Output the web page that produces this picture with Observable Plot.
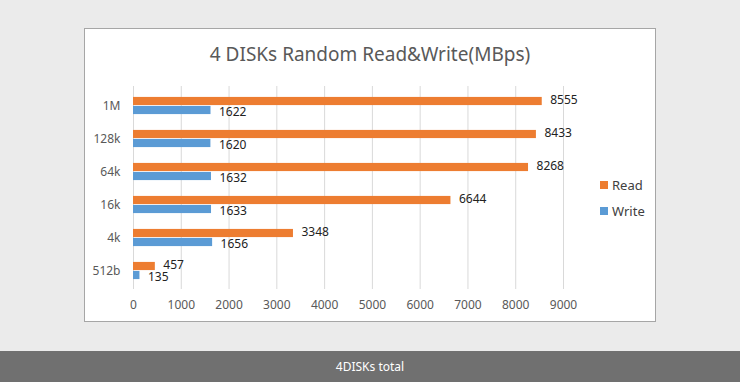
<!DOCTYPE html>
<html>
<head>
<meta charset="utf-8">
<script src="https://cdn.jsdelivr.net/npm/d3@7"></script>
<script src="https://cdn.jsdelivr.net/npm/@observablehq/plot@0.6"></script>
<style>
  html, body { margin: 0; padding: 0; }
  body { width: 740px; height: 382px; background: #ebebeb; position: relative; overflow: hidden; font-family: "Noto Sans", "Open Sans", sans-serif; }
  #box { position: absolute; left: 84px; top: 28px; width: 570px; height: 292px; background: #fff; border: 1px solid #a6a6a6; }
  #title { position: absolute; left: 0; width: 100%; top: 12px; text-align: center; font-size: 19px; color: #595959; }
  #chart { position: absolute; left: 0; top: 0; }
  .leg { position: absolute; left: 515px; font-size: 13px; color: #404040; display: flex; align-items: center; }
  .leg span.sw { display: inline-block; width: 8px; height: 8px; margin-right: 4px; }
  #footer { position: absolute; left: 0; top: 351px; width: 740px; height: 31px; background: #707070; color: #fff; font-size: 12px; text-align: center; line-height: 31px; }
</style>
</head>
<body>
<div id="box">
  <div id="title">4 DISKs Random Read&amp;Write(MBps)</div>
  <div id="chart"></div>
  <div class="leg" style="top:147px"><span class="sw" style="background:#ed7d31"></span>Read</div>
  <div class="leg" style="top:173px"><span class="sw" style="background:#5b9bd5"></span>Write</div>
</div>
<div id="footer">4DISKs total</div>
<script>
const categories = ["1M", "128k", "64k", "16k", "4k", "512b"];
const readValues = [8555, 8433, 8268, 6644, 3348, 457];
const writeValues = [1622, 1620, 1632, 1633, 1656, 135];
const xTicks = [0, 1000, 2000, 3000, 4000, 5000, 6000, 7000, 8000, 9000];

const readData = categories.map((c, i) => ({cat: c, value: readValues[i]}));
const writeData = categories.map((c, i) => ({cat: c, value: writeValues[i]}));

const W = 570, H = 292;
const plotTop = 57, plotBottom = 260;
const bw = (plotBottom - plotTop) / categories.length;
const barH = 9;

const chart = Plot.plot({
  width: W,
  height: H,
  marginLeft: 48,
  marginRight: 92,
  marginTop: plotTop,
  marginBottom: H - plotBottom,
  style: { fontFamily: "'Noto Sans', 'Open Sans', sans-serif", fontSize: "12px", color: "#595959", background: "transparent" },
  x: { domain: [0, 9000], ticks: xTicks, tickFormat: d => String(d), tickSize: 0, tickPadding: 11, label: null, grid: false },
  y: { domain: categories, padding: 0, tickSize: 0, tickPadding: 13, label: null },
  marks: [
    Plot.ruleX(xTicks, { stroke: "#d9d9d9", strokeOpacity: 1 }),
    Plot.barX(readData, { x: "value", y: "cat", fill: "#ed7d31", insetTop: bw / 2 - barH, insetBottom: bw / 2 }),
    Plot.barX(writeData, { x: "value", y: "cat", fill: "#5b9bd5", insetTop: bw / 2, insetBottom: bw / 2 - barH }),
    Plot.text(readData, { x: "value", y: "cat", text: d => String(d.value), dx: 8, dy: -5.5, textAnchor: "start", fill: "#222", fontSize: 12 }),
    Plot.text(writeData, { x: "value", y: "cat", text: d => String(d.value), dx: 8, dy: 6, textAnchor: "start", fill: "#222", fontSize: 12 })
  ]
});
document.getElementById("chart").appendChild(chart);
</script>
</body>
</html>
